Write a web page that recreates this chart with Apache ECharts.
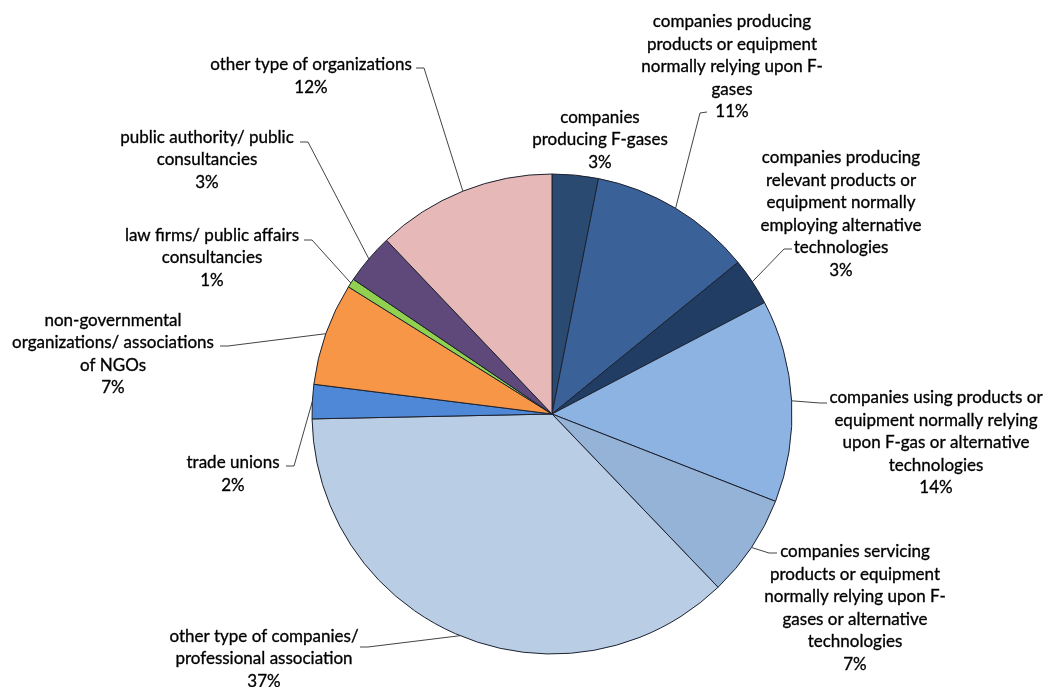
<!DOCTYPE html>
<html><head><meta charset="utf-8">
<script src="https://cdn.jsdelivr.net/npm/echarts@6/dist/echarts.min.js"></script>
<style>html,body{margin:0;padding:0;background:#fff}#c{width:1051px;height:687px}</style>
</head><body><div id="c"></div>
<script>
const categories = [
  "companies\nproducing F-gases",
  "companies producing\nproducts or equipment\nnormally relying upon F-\ngases",
  "companies producing\nrelevant products or\nequipment normally\nemploying alternative\ntechnologies",
  "companies using products or\nequipment normally relying\nupon F-gas or alternative\ntechnologies",
  "companies servicing\nproducts or equipment\nnormally relying upon F-\ngases or alternative\ntechnologies",
  "other type of companies/\nprofessional association",
  "trade unions",
  "non-governmental\norganizations/ associations\nof NGOs",
  "law firms/ public affairs\nconsultancies",
  "public authority/ public\nconsultancies",
  "other type of organizations"
];
const values = [3.1, 11.0, 3.2, 13.6, 6.9, 36.8, 2.3, 6.9, 0.6, 3.4, 12.1];
const colors = ["#2B4A72", "#3A6298", "#213D63", "#8DB3E2", "#95B3D7", "#B9CDE5",
                "#4F88D6", "#F79646", "#92D050", "#5F497A", "#E6B9B8"];
// label block centre, then leader-line bend and end points (null = no leader line)
const labelSpots = [
  [600, 140, null],
  [732, 67, [700, 113, 707, 112]],
  [841, 214, [784, 249, 792, 249]],
  [936, 443, [820, 403, 827, 403]],
  [855, 608, [769, 553, 777, 553]],
  [264, 659, [368, 647, 360, 647]],
  [233, 474, [294, 466, 286, 466]],
  [113, 354, [228, 346, 220, 346]],
  [212, 258, [312, 240, 304, 240]],
  [207, 160, [308, 142, 300, 142]],
  [311, 76, [424, 68, 416, 68]]
];

const total = values.reduce((a, b) => a + b, 0);
const chart = echarts.init(document.getElementById('c'), null, {renderer: 'canvas'});
chart.setOption({
  backgroundColor: '#ffffff',
  animation: false,
  series: [{
    type: 'pie',
    center: [552, 414],
    radius: 240,
    startAngle: 90,
    clockwise: true,
    avoidLabelOverlap: false,
    data: categories.map((name, i) => ({
      name: name,
      value: values[i],
      itemStyle: {color: colors[i]},
      labelLine: {show: labelSpots[i][2] !== null}
    })),
    itemStyle: {borderColor: '#1c2230', borderWidth: 1},
    label: {
      show: true,
      position: 'outside',
      alignTo: 'none',
      color: '#000',
      textBorderColor: '#222',
      textBorderWidth: 0.35,
      fontFamily: 'Lato',
      fontSize: 17,
      lineHeight: 22.5,
      width: 320,
      overflow: 'none',
      align: 'center',
      formatter: p => p.name + '\n' + Math.round(p.value / total * 100) + '%'
    },
    labelLine: {
      show: true,
      length: 15,
      length2: 10,
      lineStyle: {color: '#444', width: 1}
    },
    labelLayout: function (params) {
      const s = labelSpots[params.dataIndex];
      const out = {x: s[0], y: s[1], align: 'center', verticalAlign: 'middle'};
      if (s[2] && params.labelLinePoints) {
        out.labelLinePoints = [params.labelLinePoints[0], [s[2][0], s[2][1]], [s[2][2], s[2][3]]];
      }
      return out;
    }
  }]
});
</script>
</body></html>
